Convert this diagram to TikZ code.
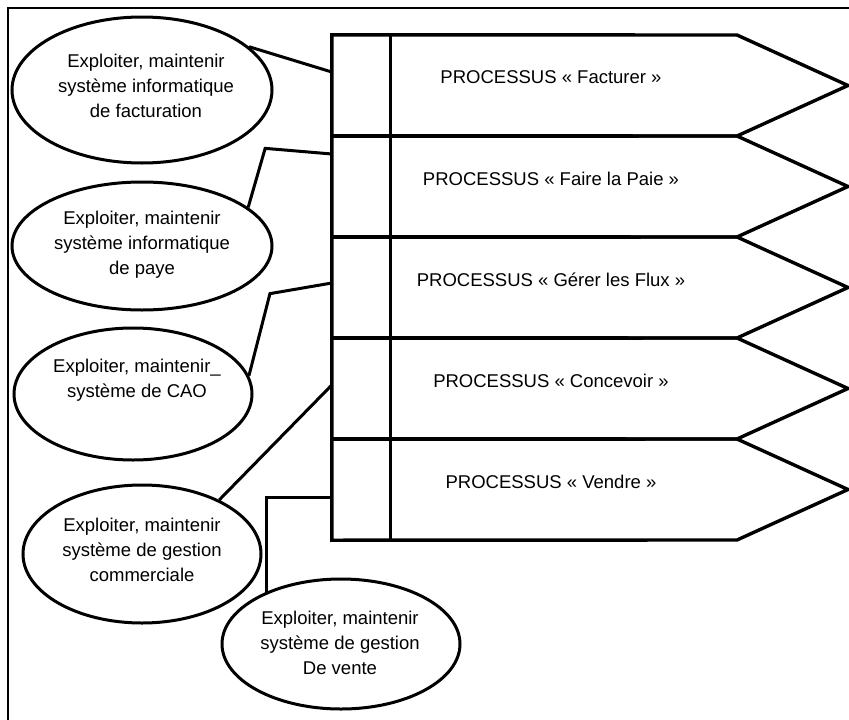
\documentclass[tikz,border=0pt]{standalone}
\usepackage{fontspec}
\setmainfont{Liberation Sans}
\usetikzlibrary{shapes.geometric}

\tikzset{
  frame/.style={draw=black, line width=2.5pt},
  proc/.style={draw=black, line width=3.4pt, line join=miter},
  cell/.style={rectangle, inner sep=0pt, minimum width=58pt, minimum height=101pt},
  ptext/.style={font=\fontsize{18.5}{25}\selectfont, inner sep=0pt},
  bubble/.style={ellipse, draw=black, line width=3pt, inner sep=0pt},
  btext/.style={font=\fontsize{18.5}{25}\selectfont, align=center, inner sep=0pt},
  link/.style={draw=black, line width=3pt, line join=miter}
}

\begin{document}
\begin{tikzpicture}[x=1pt, y=-1pt]
\useasboundingbox (0,0) rectangle (849,720);
\clip (0,0) rectangle (849,720);

% outer frame (runs off the page on the right and bottom)
\draw[frame] (8,8) rectangle (880,760);

% process arrows: left cell, outline with pointed end, label
\foreach \i/\t/\txt in {1/35/Facturer, 2/136/Faire la Paie, 3/237/Gérer les Flux, 4/338/Concevoir, 5/439/Vendre}{
  \pgfmathsetmacro{\b}{\t+101}
  \pgfmathsetmacro{\m}{\t+50.5}
  \node[cell] (p\i) at (361,\m) {};
  \draw[proc] (p\i.north west) -- (737,\t) -- (848,\m) -- (737,\b) -- (p\i.south west) -- cycle;
  \draw[proc] (p\i.north east) -- (p\i.south east);
  \node[ptext] (t\i) at (551,\m-8) {PROCESSUS « \txt{} »};
}

% information systems
\node[bubble, minimum width=260pt, minimum height=146pt] (e1) at (142,90) {};
\node[btext] (e1t) at (146,86) {Exploiter, maintenir\\système informatique\\de facturation};

\node[bubble, minimum width=260pt, minimum height=128pt] (e2) at (142,246) {};
\node[btext] (e2t) at (142,245) {Exploiter, maintenir\\système informatique\\de paye};

\node[bubble, minimum width=238pt, minimum height=132pt] (e3) at (133,394) {};
\node[btext] (e3t) at (137,380) {Exploiter, maintenir\_\\système de CAO};

\node[bubble, minimum width=238pt, minimum height=138pt] (e4) at (142,554) {};
\node[btext] (e4t) at (142,550) {Exploiter, maintenir\\système de gestion\\commerciale};

\node[bubble, minimum width=238pt, minimum height=130pt] (e5) at (341,644) {};
\node[btext] (e5t) at (340,643) {Exploiter, maintenir\\système de gestion\\De vente};

% links from each system to its process
\draw[link] (e1.22) -- ([yshift=13.5pt]p1.west);
\draw[link] (e2.20) -- ++(17,-59) -- ([yshift=32.5pt]p2.west);
\draw[link] (e3.9) -- ++(21,-82) -- ([yshift=4.5pt]p3.west);
\draw[link] (e4.35) -- ([yshift=3.5pt]p4.west);
\draw[link] ([yshift=-8pt]p5.west) -| (e5.145);
\end{tikzpicture}
\end{document}
